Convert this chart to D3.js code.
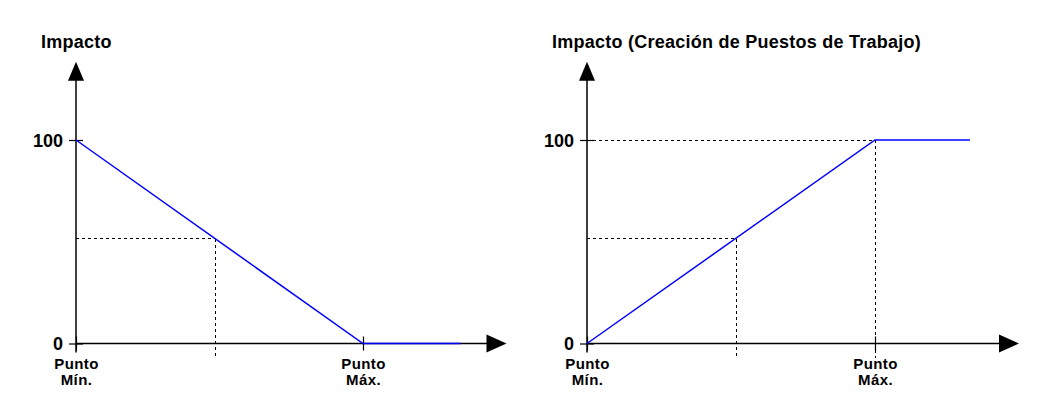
<!DOCTYPE html>
<html>
<head>
<meta charset="utf-8">
<script src="https://cdn.jsdelivr.net/npm/d3@7"></script>
<style>
  body { margin: 0; background: #fff; }
  svg { display: block; font-family: "Liberation Sans", Arial, sans-serif; }
  .title { font-size: 18px; font-weight: bold; fill: #000; letter-spacing: 0.25px; }
  .yaxis text { font-size: 18px; font-weight: bold; fill: #000; font-family: "Liberation Sans", Arial, sans-serif; }
  .xaxis text { font-size: 15px; font-weight: bold; fill: #000; letter-spacing: 0.4px; font-family: "Liberation Sans", Arial, sans-serif; }
  .guide { stroke: #000; stroke-width: 1; stroke-dasharray: 3,3; fill: none; shape-rendering: crispEdges; }
  .curve { stroke: #0000ff; stroke-width: 1.5; fill: none; }
</style>
</head>
<body>
<svg id="chart" width="1058" height="398"></svg>
<script>
// values (x: 0 = Punto Mín., 1 = Punto Máx.)
const titles = ["Impacto", "Impacto (Creación de Puestos de Trabajo)"];
const yTicks = [0, 100];
const xTicks = [0, 1];
const xTickLabels = [["Punto", "Mín."], ["Punto", "Máx."]];
const leftLine = [[0, 100], [1, 0], [1.34, 0]];
const rightLine = [[0, 0], [1, 100], [1.33, 100]];
const leftGuides = [[0.485, 51.5]];
const rightGuides = [[0.52, 51.5], [1, 100]];
const axisEnd = { x: 1.5, y: 138.5 };

const svg = d3.select("#chart");

const panels = [
  { left: 76, width: 287, title: titles[0], line: leftLine, guides: leftGuides },
  { left: 587, width: 288, title: titles[1], line: rightLine, guides: rightGuides },
];

const y = d3.scaleLinear().domain([0, 100]).range([343.5, 140]);

function drawPanel(p) {
  const x = d3.scaleLinear().domain([0, 1]).range([p.left, p.left + p.width]);
  const g = svg.append("g");

  g.append("text")
    .attr("class", "title")
    .attr("x", p.left - 35)
    .attr("y", 48)
    .text(p.title);

  // dotted guide lines
  p.guides.forEach(([gx, gy]) => {
    g.append("line").attr("class", "guide")
      .attr("x1", x(0)).attr("x2", x(gx))
      .attr("y1", y(gy)).attr("y2", y(gy));
    g.append("line").attr("class", "guide")
      .attr("x1", x(gx)).attr("x2", x(gx))
      .attr("y1", y(gy)).attr("y2", y(0) + 14);
  });

  // axis lines
  g.append("line")
    .attr("x1", x(0)).attr("x2", x(axisEnd.x) - 18)
    .attr("y1", y(0)).attr("y2", y(0))
    .attr("stroke", "#000").attr("stroke-width", 1.5);
  g.append("line")
    .attr("x1", x(0)).attr("x2", x(0))
    .attr("y1", y(0) + 9).attr("y2", y(axisEnd.y) + 17)
    .attr("stroke", "#000").attr("stroke-width", 1.5);

  // arrowheads
  const tipX = x(axisEnd.x), tipY = y(axisEnd.y);
  g.append("path")
    .attr("d", `M${tipX},${y(0)} L${tipX - 20},${y(0) - 9} L${tipX - 20},${y(0) + 9} Z`)
    .attr("fill", "#000");
  g.append("path")
    .attr("d", `M${x(0)},${tipY} L${x(0) - 8},${tipY + 19} L${x(0) + 8},${tipY + 19} Z`)
    .attr("fill", "#000");

  // y ticks
  g.append("g")
    .attr("class", "yaxis")
    .attr("transform", `translate(${x(0)},0)`)
    .call(d3.axisLeft(y).tickValues(yTicks).tickSize(7).tickPadding(6))
    .call((s) => s.select(".domain").remove())
    .call((s) => s.selectAll(".tick line").attr("x1", 7).attr("stroke", "#000").attr("stroke-width", 1.2))
    .call((s) => s.selectAll(".tick text").attr("dy", "0.36em"));

  // x ticks with two-line labels
  const xa = g.append("g")
    .attr("class", "xaxis")
    .attr("transform", `translate(0,${y(0)})`)
    .call(d3.axisBottom(x).tickValues(xTicks).tickSize(7).tickFormat(""))
    .call((s) => s.select(".domain").remove())
    .call((s) => s.selectAll(".tick line").attr("y1", -7).attr("stroke", "#000").attr("stroke-width", 1.2));

  xa.selectAll(".tick text")
    .attr("y", 0)
    .attr("dy", null)
    .each(function (d, i) {
      const t = d3.select(this);
      xTickLabels[i].forEach((s, k) => {
        t.append("tspan").attr("x", 0).attr("y", 25 + k * 16).text(s);
      });
    });

  // impact curve
  const lineGen = d3.line().x((d) => x(d[0])).y((d) => y(d[1]));
  g.append("path").attr("class", "curve").attr("d", lineGen(p.line));
}

panels.forEach(drawPanel);
</script>
</body>
</html>
